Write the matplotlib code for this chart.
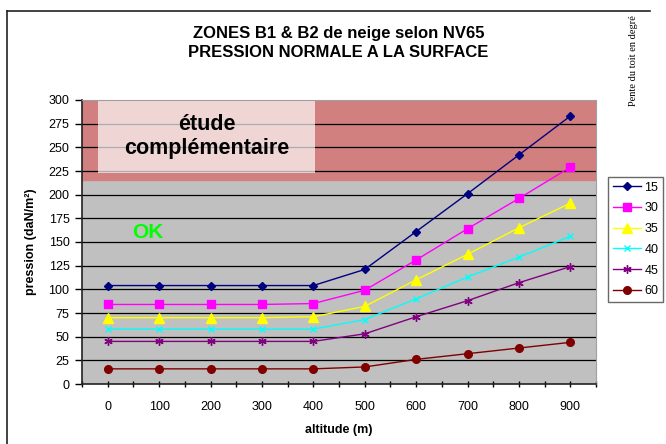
import matplotlib
matplotlib.use("Agg")
import matplotlib.pyplot as plt
from matplotlib.patches import Rectangle
from matplotlib.lines import Line2D

plt.rcParams['font.family'] = ['Liberation Sans', 'DejaVu Sans']

# Altitudes (m) et pression normale (daN/m²) par pente de toit
altitudes = [0, 100, 200, 300, 400, 500, 600, 700, 800, 900]
pentes = ['15', '30', '35', '40', '45', '60']
p15 = [104, 104, 104, 104, 104, 121, 161, 201, 242, 283]
p30 = [84, 84, 84, 84, 85, 99, 131, 164, 196, 229]
p35 = [70, 70, 70, 70, 71, 82, 110, 137, 165, 191]
p40 = [58, 58, 58, 58, 58, 68, 90, 113, 134, 156]
p45 = [45, 45, 45, 45, 45, 53, 71, 88, 107, 124]
p60 = [16, 16, 16, 16, 16, 18, 26, 32, 38, 44]
seuil_etude = 215

series = [p15, p30, p35, p40, p45, p60]
couleurs = ['#000080', '#ff00ff', '#ffff00', '#00ffff', '#800080', '#800000']
marqueurs = ['D', 's', '^', 'x', (6, 2, 0), 'o']
tailles = [4.5, 5.5, 6.5, 5, 6, 5.5]

fig = plt.figure(figsize=(6.66, 4.44), dpi=100)
ax = fig.add_axes([82 / 666, 60 / 444, 514 / 666, 284 / 444])

ax.set_facecolor('#c0c0c0')
ax.axhspan(seuil_etude, 300, color='#d17f7f', zorder=0)

for y in range(25, 300, 25):
    ax.axhline(y, color='black', lw=0.9, zorder=1)

for vals, c, m, ms in zip(series, couleurs, marqueurs, tailles):
    ax.plot(altitudes, vals, color=c, marker=m, ms=ms, lw=1,
            mec=c, mfc=c, zorder=3)

ax.set_xlim(-50, 950)
ax.set_ylim(0, 300)
ax.set_xticks(altitudes)
ax.set_xticks([a - 50 for a in altitudes] + [950], minor=True)
ax.set_yticks(range(0, 301, 25))
ax.tick_params(axis='x', which='both', direction='inout', length=5, width=1)
ax.tick_params(axis='x', which='major', pad=10, labelsize=9)
ax.tick_params(axis='y', direction='out', length=5, width=1, pad=4, labelsize=9)

for s in ['left', 'bottom']:
    ax.spines[s].set_linewidth(1.2)
    ax.spines[s].set_color('#222222')
for s in ['top', 'right']:
    ax.spines[s].set_color('#a0a0a0')
    ax.spines[s].set_linewidth(0.8)

ax.set_xlabel('altitude (m)', fontweight='bold', fontsize=9, labelpad=8)
ax.set_ylabel('pression (daN/m²)', fontweight='bold', fontsize=9, labelpad=8)

# Encadré "étude complémentaire" semi-transparent
ax.add_patch(Rectangle((0.031, 0.743), 0.422, 0.253, transform=ax.transAxes,
                       facecolor='white', alpha=0.68, edgecolor='none', zorder=2))
ax.text(0.242, 0.872, 'étude\ncomplémentaire', transform=ax.transAxes,
        ha='center', va='center', fontsize=15.5, fontweight='bold',
        linespacing=1.2, zorder=4)
ax.text(0.128, 0.535, 'OK', transform=ax.transAxes, ha='center', va='center',
        fontsize=15, fontweight='bold', color='#00ff00', zorder=4)

fig.text(0.508, 1 - 43 / 444, 'ZONES B1 & B2 de neige selon NV65\nPRESSION NORMALE A LA SURFACE',
         ha='center', va='center', fontsize=12, fontweight='bold', linespacing=1.3)

fig.text(634 / 666, 1 - 61 / 444, 'Pente du toit en degré', rotation=90,
         ha='center', va='center', fontsize=7.5, family=['Liberation Serif'])

poignees = [Line2D([], [], color=c, marker=m, ms=ms, lw=1, mec=c, mfc=c)
            for c, m, ms in zip(couleurs, marqueurs, tailles)]
leg = fig.legend(poignees, pentes, loc='upper left',
                 bbox_to_anchor=(608 / 666, 1 - 177 / 444), fontsize=9,
                 frameon=True, fancybox=False, edgecolor='#444444',
                 handlelength=2.3, handletextpad=0.25, borderpad=0.36,
                 labelspacing=0.7, borderaxespad=0)
leg.get_frame().set_linewidth(1)

# Cadre du graphique
fig.add_artist(Line2D([7 / 666, 7 / 666], [0, 1 - 11 / 444], color='#222222', lw=1.2))
fig.add_artist(Line2D([7 / 666, 650 / 666], [1 - 11 / 444, 1 - 11 / 444], color='#222222', lw=1.2))

fig.savefig('out.png', dpi=100)
